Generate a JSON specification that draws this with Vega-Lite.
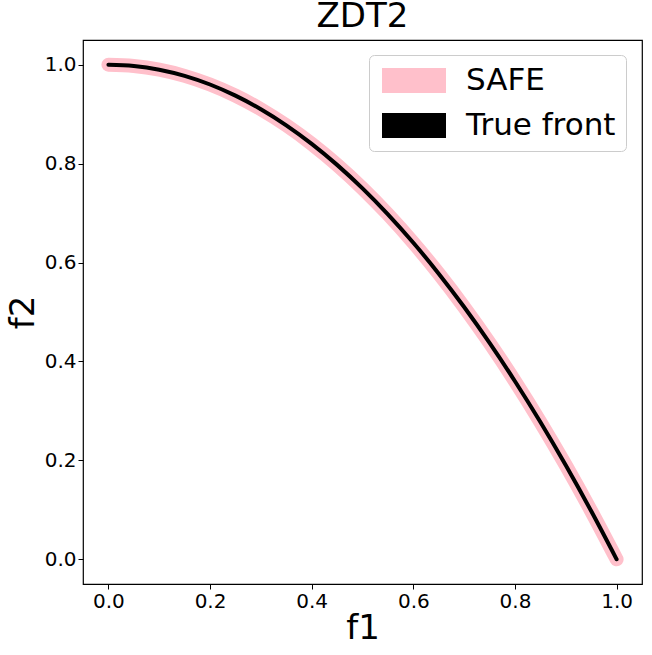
{
  "$schema": "https://vega.github.io/schema/vega-lite/v6.json",
  "width": 559,
  "height": 544,
  "autosize": "none",
  "padding": {"left": 83, "top": 40, "right": 10, "bottom": 71},
  "background": "white",
  "config": {
    "font": "DejaVu Sans",
    "view": {"stroke": "black", "strokeWidth": 1.2},
    "axis": {"domain": false, "grid": false, "tickColor": "black", "tickSize": 5, "tickWidth": 1, "labelColor": "black", "labelFontSize": 20, "titleFontSize": 34, "titleFontWeight": "normal", "titleColor": "black", "labelFont": "DejaVu Sans", "titleFont": "DejaVu Sans"}
  },
  "title": {"text": "ZDT2", "fontSize": 34, "fontWeight": "normal", "font": "DejaVu Sans", "color": "black", "offset": 6},
  "data": {
    "values": [
      {"f1": 0.0, "f2": 1.0, "series": "SAFE"},
      {"f1": 0.05, "f2": 0.9975, "series": "SAFE"},
      {"f1": 0.1, "f2": 0.99, "series": "SAFE"},
      {"f1": 0.15, "f2": 0.9775, "series": "SAFE"},
      {"f1": 0.2, "f2": 0.96, "series": "SAFE"},
      {"f1": 0.25, "f2": 0.9375, "series": "SAFE"},
      {"f1": 0.3, "f2": 0.91, "series": "SAFE"},
      {"f1": 0.35, "f2": 0.8775, "series": "SAFE"},
      {"f1": 0.4, "f2": 0.84, "series": "SAFE"},
      {"f1": 0.45, "f2": 0.7975, "series": "SAFE"},
      {"f1": 0.5, "f2": 0.75, "series": "SAFE"},
      {"f1": 0.55, "f2": 0.6975, "series": "SAFE"},
      {"f1": 0.6, "f2": 0.64, "series": "SAFE"},
      {"f1": 0.65, "f2": 0.5775, "series": "SAFE"},
      {"f1": 0.7, "f2": 0.51, "series": "SAFE"},
      {"f1": 0.75, "f2": 0.4375, "series": "SAFE"},
      {"f1": 0.8, "f2": 0.36, "series": "SAFE"},
      {"f1": 0.85, "f2": 0.2775, "series": "SAFE"},
      {"f1": 0.9, "f2": 0.19, "series": "SAFE"},
      {"f1": 0.95, "f2": 0.0975, "series": "SAFE"},
      {"f1": 1.0, "f2": 0.0, "series": "SAFE"},
      {"f1": 0.0, "f2": 1.0, "series": "True front"},
      {"f1": 0.05, "f2": 0.9975, "series": "True front"},
      {"f1": 0.1, "f2": 0.99, "series": "True front"},
      {"f1": 0.15, "f2": 0.9775, "series": "True front"},
      {"f1": 0.2, "f2": 0.96, "series": "True front"},
      {"f1": 0.25, "f2": 0.9375, "series": "True front"},
      {"f1": 0.3, "f2": 0.91, "series": "True front"},
      {"f1": 0.35, "f2": 0.8775, "series": "True front"},
      {"f1": 0.4, "f2": 0.84, "series": "True front"},
      {"f1": 0.45, "f2": 0.7975, "series": "True front"},
      {"f1": 0.5, "f2": 0.75, "series": "True front"},
      {"f1": 0.55, "f2": 0.6975, "series": "True front"},
      {"f1": 0.6, "f2": 0.64, "series": "True front"},
      {"f1": 0.65, "f2": 0.5775, "series": "True front"},
      {"f1": 0.7, "f2": 0.51, "series": "True front"},
      {"f1": 0.75, "f2": 0.4375, "series": "True front"},
      {"f1": 0.8, "f2": 0.36, "series": "True front"},
      {"f1": 0.85, "f2": 0.2775, "series": "True front"},
      {"f1": 0.9, "f2": 0.19, "series": "True front"},
      {"f1": 0.95, "f2": 0.0975, "series": "True front"},
      {"f1": 1.0, "f2": 0.0, "series": "True front"}
    ]
  },
  "encoding": {
    "x": {"field": "f1", "type": "quantitative", "title": "f1",
      "scale": {"domain": [-0.05, 1.05], "nice": false, "zero": false},
      "axis": {"values": [0, 0.2, 0.4, 0.6, 0.8, 1.0], "format": ".1f", "labelPadding": 2, "titlePadding": 0}},
    "y": {"field": "f2", "type": "quantitative", "title": "f2",
      "scale": {"domain": [-0.05, 1.05], "nice": false, "zero": false},
      "axis": {"values": [0, 0.2, 0.4, 0.6, 0.8, 1.0], "format": ".1f", "labelPadding": 2, "titlePadding": 4}},
    "color": {"field": "series", "type": "nominal",
      "scale": {"domain": ["SAFE", "True front"], "range": ["pink", "black"]},
      "legend": {"title": null, "orient": "none", "legendX": 286, "legendY": 15,
        "labelFontSize": 31, "labelColor": "black", "labelFont": "DejaVu Sans",
        "symbolType": "M-1,-1H4.12V1H-1Z", "symbolSize": 625,
        "symbolStrokeWidth": 0, "symbolStrokeColor": "transparent",
        "rowPadding": 13, "labelOffset": 56,
        "fillColor": "white", "strokeColor": "#cccccc", "cornerRadius": 5, "padding": 10,
        "encode": {"symbols": {"update": {"fill": {"scale": "color", "field": "value"}, "stroke": {"value": "transparent"}, "strokeWidth": {"value": 0}}}}}}
  },
  "layer": [
    {"transform": [{"filter": "datum.series === 'SAFE'"}],
     "mark": {"type": "line", "interpolate": "monotone", "strokeCap": "round", "strokeJoin": "round", "strokeWidth": 14}},
    {"transform": [{"filter": "datum.series === 'True front'"}],
     "mark": {"type": "line", "interpolate": "monotone", "strokeCap": "round", "strokeJoin": "round", "strokeWidth": 4}}
  ]
}
